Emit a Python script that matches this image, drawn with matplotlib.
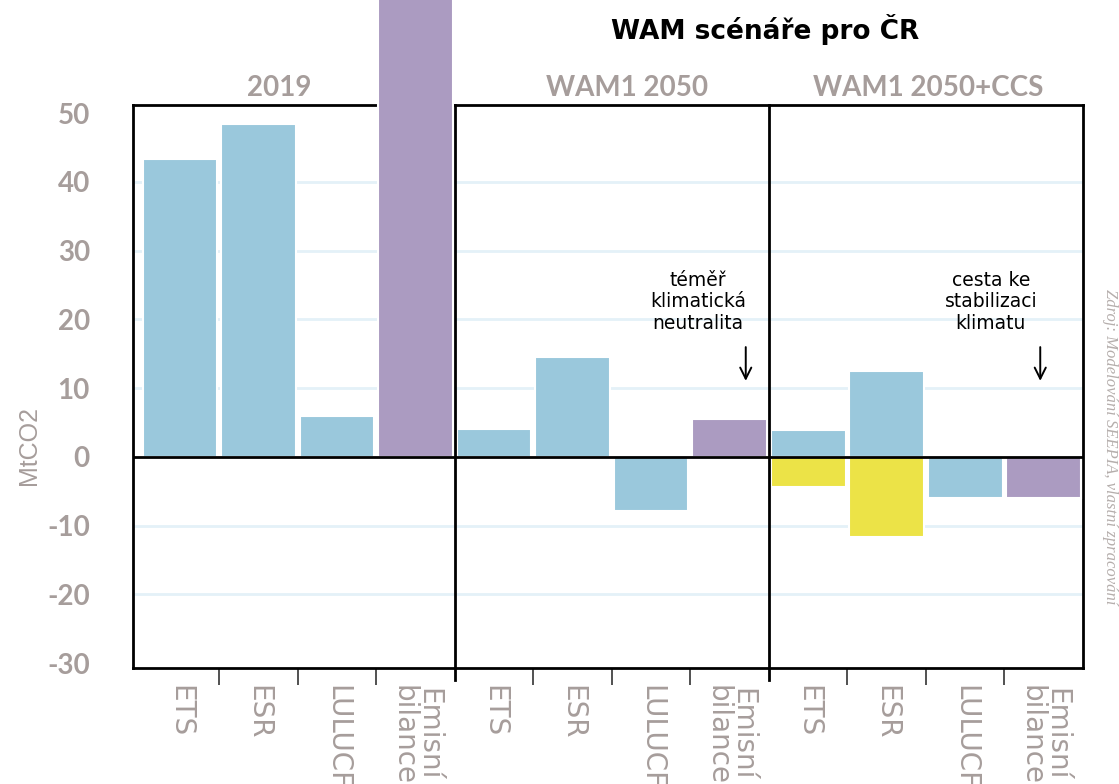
import numpy as np
import matplotlib
matplotlib.use("Agg")
from matplotlib import pyplot as plt
from matplotlib.transforms import blended_transform_factory

# data (MtCO2)
categories = ["ETS", "ESR", "LULUCF", "Emisní\nbilance"]
groups = ["2019", "WAM1 2050", "WAM1 2050+CCS"]
values_2019 = [43.3, 48.4, 6.0, 97.0]
values_wam1 = [4.1, 14.5, -7.8, 5.5]
values_ccs = [3.9, 12.5, -5.9, -5.9]
ccs_capture = [-4.3, -11.6, 0.0, 0.0]
y_ticks = [-30, -20, -10, 0, 10, 20, 30, 40, 50]
grid_levels = [-20, -10, 10, 20, 30, 40]

BLUE = "#9ac8dc"
PURPLE = "#ab9bc1"
YELLOW = "#ece347"
GREY = "#a69d9b"
GRID = "#e4f1f8"

fig = plt.figure(figsize=(11.19, 7.84), dpi=100)
ax = fig.add_axes([133 / 1119, 1 - 668 / 784, 950 / 1119, 563 / 784])

values = values_2019 + values_wam1 + values_ccs
colors = ([BLUE] * 3 + [PURPLE]) * 3
x = np.arange(len(values))
labels = categories * len(groups)

for lvl in grid_levels:
    ax.axhline(lvl, color=GRID, lw=2, zorder=0)

ax.bar(x, values, width=0.95, color=colors, edgecolor="white", linewidth=1.5,
       zorder=3, clip_on=False)
# CCS capture below zero in the third group
x_ccs = x[8:]
ax.bar(x_ccs, ccs_capture, width=0.95, color=YELLOW, edgecolor="white",
       linewidth=1.5, zorder=3)

ax.set_xlim(-0.6, len(values) - 0.5)
ax.set_ylim(-30.7, 51.2)
ax.axhline(0, color="black", lw=2, zorder=4)

for s in ax.spines.values():
    s.set_linewidth(2)
    s.set_color("black")
    s.set_zorder(2.5)

# group dividers, running a bit below the frame
trans = blended_transform_factory(ax.transData, ax.transAxes)
for d in [3.5, 7.5]:
    ax.plot([d, d], [-0.021, 1], color="black", lw=2, transform=trans,
            clip_on=False, zorder=4)

# group titles
title_x = [1.26, 5.69, 9.53]
for gx, g in zip(title_x, groups):
    ax.text(gx, 1.030, g, transform=trans, ha="center", va="center",
            fontsize=20, fontweight="bold", color=GREY, family="Lato")

# x ticks: labels at bar centres, tick marks at bar boundaries
ax.set_xticks(x)
ax.set_xticklabels(labels, rotation=-90, va="top", ha="center",
                   fontsize=20, color=GREY, linespacing=0.85,
                   family=["Liberation Sans Narrow", "DejaVu Sans Condensed"])
ax.tick_params(axis="x", length=0, pad=12)
bounds = [b for b in np.arange(0.5, len(values) - 0.5) if b not in (3.5, 7.5)]
ax.set_xticks(bounds, minor=True)
ax.tick_params(axis="x", which="minor", length=12, width=1.2, color="#333333",
               direction="out")

ax.set_yticks(y_ticks)
ax.set_yticklabels([str(v) for v in y_ticks], fontsize=20, fontweight="bold",
                   color=GREY, family="Lato")
ax.tick_params(axis="y", length=0, pad=31)

fig.text(0.026, 0.432, "MtCO2", rotation=90, ha="center", va="center",
         fontsize=18, color=GREY, family="Liberation Sans")

fig.text(0.684, 0.962, "WAM scénáře pro ČR", ha="center", va="center",
         fontsize=19, fontweight="bold", color="black", family="DejaVu Sans")

fig.text(0.992, 0.43, "Zdroj: Modelování SEEPIA, vlastní zpracování",
         rotation=-90, ha="center", va="center", fontsize=12,
         color="#b5aeac", family="Liberation Serif", style="italic")

# annotations
ax.text(0.595, 0.705, "téměř\nklimatická\nneutralita", transform=ax.transAxes,
        ha="center", va="top", fontsize=13.5, linespacing=1.15,
        family="DejaVu Sans")
ax.text(0.903, 0.705, "cesta ke\nstabilizaci\nklimatu", transform=ax.transAxes,
        ha="center", va="top", fontsize=13.5, linespacing=1.15,
        family="DejaVu Sans")
for axx in [0.645, 0.955]:
    ax.annotate("", xy=(axx, 0.51), xytext=(axx, 0.57),
                xycoords="axes fraction",
                arrowprops=dict(arrowstyle="->", lw=1.4, color="black",
                                mutation_scale=20, shrinkA=0, shrinkB=0))

fig.savefig("out.png", dpi=100)
